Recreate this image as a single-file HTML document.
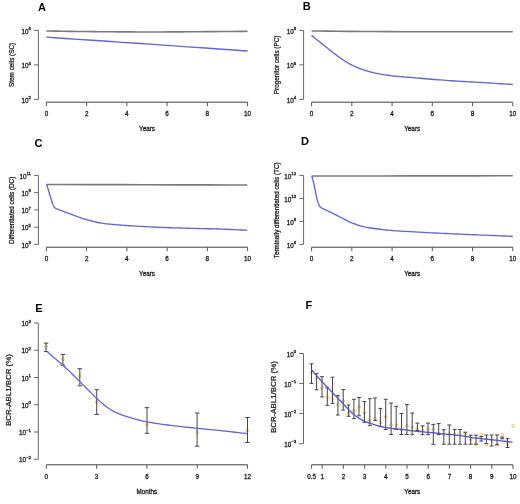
<!DOCTYPE html>
<html><head><meta charset="utf-8"><title>Figure</title>
<style>html,body{margin:0;padding:0;background:#fff;width:520px;height:504px;overflow:hidden}
svg{display:block;will-change:transform;font-family:"Liberation Sans",sans-serif}</style></head>
<body>
<svg width="520" height="504" viewBox="0 0 520 504" font-family='"Liberation Sans", sans-serif'>
<rect width="520" height="504" fill="#fff"/>
<g>
<line x1="38.4" y1="30.4" x2="38.4" y2="99.4" stroke="#676767" stroke-width="1.0"/>
<line x1="34.1" y1="30.4" x2="38.4" y2="30.4" stroke="#676767" stroke-width="1.0"/>
<line x1="34.1" y1="64.9" x2="38.4" y2="64.9" stroke="#676767" stroke-width="1.0"/>
<line x1="34.1" y1="99.4" x2="38.4" y2="99.4" stroke="#676767" stroke-width="1.0"/>
<line x1="46.4" y1="102.2" x2="247.6" y2="102.2" stroke="#404040" stroke-width="1.0"/>
<line x1="46.4" y1="102.2" x2="46.4" y2="106.2" stroke="#555" stroke-width="1.0"/>
<line x1="86.64" y1="102.2" x2="86.64" y2="106.2" stroke="#555" stroke-width="1.0"/>
<line x1="126.88" y1="102.2" x2="126.88" y2="106.2" stroke="#555" stroke-width="1.0"/>
<line x1="167.12" y1="102.2" x2="167.12" y2="106.2" stroke="#555" stroke-width="1.0"/>
<line x1="207.36" y1="102.2" x2="207.36" y2="106.2" stroke="#555" stroke-width="1.0"/>
<line x1="247.6" y1="102.2" x2="247.6" y2="106.2" stroke="#555" stroke-width="1.0"/>
<text x="46.4" y="116.3" font-size="6.3" text-anchor="middle" font-weight="normal" fill="#1a1a1a" stroke="#1a1a1a" stroke-width="0.28">0</text>
<text x="86.64" y="116.3" font-size="6.3" text-anchor="middle" font-weight="normal" fill="#1a1a1a" stroke="#1a1a1a" stroke-width="0.28">2</text>
<text x="126.88" y="116.3" font-size="6.3" text-anchor="middle" font-weight="normal" fill="#1a1a1a" stroke="#1a1a1a" stroke-width="0.28">4</text>
<text x="167.12" y="116.3" font-size="6.3" text-anchor="middle" font-weight="normal" fill="#1a1a1a" stroke="#1a1a1a" stroke-width="0.28">6</text>
<text x="207.36" y="116.3" font-size="6.3" text-anchor="middle" font-weight="normal" fill="#1a1a1a" stroke="#1a1a1a" stroke-width="0.28">8</text>
<text x="247.6" y="116.3" font-size="6.3" text-anchor="middle" font-weight="normal" fill="#1a1a1a" stroke="#1a1a1a" stroke-width="0.28">10</text>
<text x="147" y="131.4" font-size="6.3" text-anchor="middle" font-weight="normal" fill="#1a1a1a" stroke="#1a1a1a" stroke-width="0.28">Years</text>
<text x="31" y="33.6" font-size="6.3" text-anchor="end" fill="#1a1a1a" stroke="#1a1a1a" stroke-width="0.28">10<tspan font-size="4.4" dy="-3.5">6</tspan></text>
<text x="31" y="68.1" font-size="6.3" text-anchor="end" fill="#1a1a1a" stroke="#1a1a1a" stroke-width="0.28">10<tspan font-size="4.4" dy="-3.5">4</tspan></text>
<text x="31" y="102.6" font-size="6.3" text-anchor="end" fill="#1a1a1a" stroke="#1a1a1a" stroke-width="0.28">10<tspan font-size="4.4" dy="-3.5">2</tspan></text>
<text x="14.5" y="64.9" font-size="6.35" text-anchor="middle" font-weight="normal" fill="#1a1a1a" stroke="#1a1a1a" stroke-width="0.28" transform="rotate(-90 14.5 64.9)">Stem cells (SC)</text>
<text x="42" y="11.2" font-size="11.0" text-anchor="middle" font-weight="bold" fill="#000">A</text>
<polyline points="46.4,31 50.56,31.06 56.12,31.14 62.73,31.23 70.08,31.33 77.81,31.44 85.6,31.54 93.11,31.63 100,31.7 106.42,31.76 112.75,31.81 119.01,31.85 125.22,31.88 131.41,31.91 137.58,31.93 143.77,31.95 150,31.95 156.27,31.94 162.56,31.93 168.86,31.9 175.15,31.87 181.43,31.83 187.67,31.78 193.86,31.74 200,31.7 206.39,31.65 213.18,31.6 220.12,31.54 226.93,31.48 233.34,31.43 239.1,31.38 243.94,31.33 247.6,31.3" fill="none" stroke="#7a7a7a" stroke-width="1.6" stroke-linejoin="round" stroke-linecap="butt"/>
<polyline points="46.4,37.2 54.43,37.74 65.16,38.46 77.93,39.32 92.1,40.28 107.04,41.28 122.09,42.3 136.63,43.29 150,44.2 163.15,45.11 177.11,46.07 191.33,47.06 205.28,48.04 218.41,48.96 230.2,49.78 240.11,50.48 247.6,51" fill="none" stroke="#6464d6" stroke-width="1.35" stroke-linejoin="round" stroke-linecap="butt"/>
<line x1="303.6" y1="30.4" x2="303.6" y2="99.4" stroke="#676767" stroke-width="1.0"/>
<line x1="299.3" y1="30.4" x2="303.6" y2="30.4" stroke="#676767" stroke-width="1.0"/>
<line x1="299.3" y1="64.9" x2="303.6" y2="64.9" stroke="#676767" stroke-width="1.0"/>
<line x1="299.3" y1="99.4" x2="303.6" y2="99.4" stroke="#676767" stroke-width="1.0"/>
<line x1="311.6" y1="102.2" x2="512.8" y2="102.2" stroke="#404040" stroke-width="1.0"/>
<line x1="311.6" y1="102.2" x2="311.6" y2="106.2" stroke="#555" stroke-width="1.0"/>
<line x1="351.84" y1="102.2" x2="351.84" y2="106.2" stroke="#555" stroke-width="1.0"/>
<line x1="392.08" y1="102.2" x2="392.08" y2="106.2" stroke="#555" stroke-width="1.0"/>
<line x1="432.32" y1="102.2" x2="432.32" y2="106.2" stroke="#555" stroke-width="1.0"/>
<line x1="472.56" y1="102.2" x2="472.56" y2="106.2" stroke="#555" stroke-width="1.0"/>
<line x1="512.8" y1="102.2" x2="512.8" y2="106.2" stroke="#555" stroke-width="1.0"/>
<text x="311.6" y="116.3" font-size="6.3" text-anchor="middle" font-weight="normal" fill="#1a1a1a" stroke="#1a1a1a" stroke-width="0.28">0</text>
<text x="351.84" y="116.3" font-size="6.3" text-anchor="middle" font-weight="normal" fill="#1a1a1a" stroke="#1a1a1a" stroke-width="0.28">2</text>
<text x="392.08" y="116.3" font-size="6.3" text-anchor="middle" font-weight="normal" fill="#1a1a1a" stroke="#1a1a1a" stroke-width="0.28">4</text>
<text x="432.32" y="116.3" font-size="6.3" text-anchor="middle" font-weight="normal" fill="#1a1a1a" stroke="#1a1a1a" stroke-width="0.28">6</text>
<text x="472.56" y="116.3" font-size="6.3" text-anchor="middle" font-weight="normal" fill="#1a1a1a" stroke="#1a1a1a" stroke-width="0.28">8</text>
<text x="512.8" y="116.3" font-size="6.3" text-anchor="middle" font-weight="normal" fill="#1a1a1a" stroke="#1a1a1a" stroke-width="0.28">10</text>
<text x="412.2" y="131.4" font-size="6.3" text-anchor="middle" font-weight="normal" fill="#1a1a1a" stroke="#1a1a1a" stroke-width="0.28">Years</text>
<text x="296.2" y="33.6" font-size="6.3" text-anchor="end" fill="#1a1a1a" stroke="#1a1a1a" stroke-width="0.28">10<tspan font-size="4.4" dy="-3.5">8</tspan></text>
<text x="296.2" y="68.1" font-size="6.3" text-anchor="end" fill="#1a1a1a" stroke="#1a1a1a" stroke-width="0.28">10<tspan font-size="4.4" dy="-3.5">6</tspan></text>
<text x="296.2" y="102.6" font-size="6.3" text-anchor="end" fill="#1a1a1a" stroke="#1a1a1a" stroke-width="0.28">10<tspan font-size="4.4" dy="-3.5">4</tspan></text>
<text x="278.8" y="64.9" font-size="6.35" text-anchor="middle" font-weight="normal" fill="#1a1a1a" stroke="#1a1a1a" stroke-width="0.28" transform="rotate(-90 278.8 64.9)">Progenitor cells (PC)</text>
<text x="306.8" y="10.3" font-size="11.0" text-anchor="middle" font-weight="bold" fill="#000">B</text>
<polyline points="311.6,31 318.25,31.06 326.91,31.14 337.2,31.24 348.75,31.34 361.18,31.45 374.11,31.55 387.18,31.64 400,31.7 413.7,31.74 429.13,31.77 445.47,31.79 461.92,31.79 477.69,31.8 491.96,31.8 503.93,31.8 512.8,31.8" fill="none" stroke="#7a7a7a" stroke-width="1.6" stroke-linejoin="round" stroke-linecap="butt"/>
<polyline points="311.5,35.4 312.4,36.11 313.59,37.05 315,38.18 316.58,39.42 318.25,40.75 319.94,42.08 321.58,43.39 323.1,44.6 324.54,45.76 325.98,46.93 327.42,48.1 328.85,49.27 330.28,50.43 331.72,51.58 333.16,52.7 334.6,53.8 336.05,54.88 337.5,55.96 338.95,57.02 340.4,58.06 341.85,59.08 343.3,60.06 344.75,61.01 346.2,61.9 347.64,62.75 349.08,63.56 350.52,64.33 351.96,65.06 353.39,65.77 354.83,66.44 356.26,67.08 357.7,67.7 359.14,68.29 360.57,68.84 362.01,69.36 363.44,69.85 364.88,70.32 366.32,70.76 367.76,71.19 369.2,71.6 370.65,71.99 372.1,72.36 373.55,72.71 375,73.04 376.45,73.36 377.9,73.65 379.35,73.93 380.8,74.2 382.24,74.45 383.68,74.68 385.12,74.9 386.56,75.09 387.99,75.28 389.43,75.46 390.86,75.63 392.3,75.8 393.68,75.96 394.99,76.1 396.27,76.23 397.56,76.35 398.92,76.47 400.38,76.6 401.99,76.74 403.8,76.9 405.81,77.07 407.99,77.26 410.3,77.45 412.73,77.65 415.24,77.86 417.83,78.07 420.45,78.28 423.1,78.5 425.81,78.73 428.61,78.97 431.49,79.21 434.42,79.46 437.38,79.71 440.34,79.95 443.29,80.18 446.2,80.4 449.08,80.6 451.95,80.79 454.83,80.96 457.7,81.13 460.57,81.3 463.45,81.46 466.32,81.63 469.2,81.8 472.1,81.98 475.03,82.15 477.97,82.33 480.91,82.51 483.82,82.68 486.71,82.86 489.54,83.03 492.3,83.2 495.13,83.38 498.09,83.56 501.08,83.75 503.99,83.94 506.73,84.11 509.18,84.27 511.24,84.4 512.8,84.5" fill="none" stroke="#6464d6" stroke-width="1.35" stroke-linejoin="round" stroke-linecap="butt"/>
<line x1="38.4" y1="175.4" x2="38.4" y2="244.4" stroke="#676767" stroke-width="1.0"/>
<line x1="34.1" y1="175.4" x2="38.4" y2="175.4" stroke="#676767" stroke-width="1.0"/>
<line x1="34.1" y1="192.65" x2="38.4" y2="192.65" stroke="#676767" stroke-width="1.0"/>
<line x1="34.1" y1="209.9" x2="38.4" y2="209.9" stroke="#676767" stroke-width="1.0"/>
<line x1="34.1" y1="227.15" x2="38.4" y2="227.15" stroke="#676767" stroke-width="1.0"/>
<line x1="34.1" y1="244.4" x2="38.4" y2="244.4" stroke="#676767" stroke-width="1.0"/>
<line x1="46.4" y1="247.2" x2="247.6" y2="247.2" stroke="#404040" stroke-width="1.0"/>
<line x1="46.4" y1="247.2" x2="46.4" y2="251.2" stroke="#555" stroke-width="1.0"/>
<line x1="86.64" y1="247.2" x2="86.64" y2="251.2" stroke="#555" stroke-width="1.0"/>
<line x1="126.88" y1="247.2" x2="126.88" y2="251.2" stroke="#555" stroke-width="1.0"/>
<line x1="167.12" y1="247.2" x2="167.12" y2="251.2" stroke="#555" stroke-width="1.0"/>
<line x1="207.36" y1="247.2" x2="207.36" y2="251.2" stroke="#555" stroke-width="1.0"/>
<line x1="247.6" y1="247.2" x2="247.6" y2="251.2" stroke="#555" stroke-width="1.0"/>
<text x="46.4" y="261.3" font-size="6.3" text-anchor="middle" font-weight="normal" fill="#1a1a1a" stroke="#1a1a1a" stroke-width="0.28">0</text>
<text x="86.64" y="261.3" font-size="6.3" text-anchor="middle" font-weight="normal" fill="#1a1a1a" stroke="#1a1a1a" stroke-width="0.28">2</text>
<text x="126.88" y="261.3" font-size="6.3" text-anchor="middle" font-weight="normal" fill="#1a1a1a" stroke="#1a1a1a" stroke-width="0.28">4</text>
<text x="167.12" y="261.3" font-size="6.3" text-anchor="middle" font-weight="normal" fill="#1a1a1a" stroke="#1a1a1a" stroke-width="0.28">6</text>
<text x="207.36" y="261.3" font-size="6.3" text-anchor="middle" font-weight="normal" fill="#1a1a1a" stroke="#1a1a1a" stroke-width="0.28">8</text>
<text x="247.6" y="261.3" font-size="6.3" text-anchor="middle" font-weight="normal" fill="#1a1a1a" stroke="#1a1a1a" stroke-width="0.28">10</text>
<text x="147" y="276.4" font-size="6.3" text-anchor="middle" font-weight="normal" fill="#1a1a1a" stroke="#1a1a1a" stroke-width="0.28">Years</text>
<text x="31" y="178.6" font-size="6.3" text-anchor="end" fill="#1a1a1a" stroke="#1a1a1a" stroke-width="0.28">10<tspan font-size="4.4" dy="-3.5">11</tspan></text>
<text x="31" y="195.85" font-size="6.3" text-anchor="end" fill="#1a1a1a" stroke="#1a1a1a" stroke-width="0.28">10<tspan font-size="4.4" dy="-3.5">9</tspan></text>
<text x="31" y="213.1" font-size="6.3" text-anchor="end" fill="#1a1a1a" stroke="#1a1a1a" stroke-width="0.28">10<tspan font-size="4.4" dy="-3.5">7</tspan></text>
<text x="31" y="230.35" font-size="6.3" text-anchor="end" fill="#1a1a1a" stroke="#1a1a1a" stroke-width="0.28">10<tspan font-size="4.4" dy="-3.5">5</tspan></text>
<text x="31" y="247.6" font-size="6.3" text-anchor="end" fill="#1a1a1a" stroke="#1a1a1a" stroke-width="0.28">10<tspan font-size="4.4" dy="-3.5">3</tspan></text>
<text x="14.5" y="210.3" font-size="6.35" text-anchor="middle" font-weight="normal" fill="#1a1a1a" stroke="#1a1a1a" stroke-width="0.28" transform="rotate(-90 14.5 210.3)">Differentiated cells (DC)</text>
<text x="38.6" y="147.3" font-size="11.0" text-anchor="middle" font-weight="bold" fill="#000">C</text>
<polyline points="46.4,184.5 63.27,184.54 87.21,184.6 115.85,184.67 146.85,184.75 177.85,184.83 206.49,184.9 230.43,184.96 247.3,185" fill="none" stroke="#7a7a7a" stroke-width="1.6" stroke-linejoin="round" stroke-linecap="butt"/>
<polyline points="46.5,184.2 46.65,184.67 46.85,185.28 47.09,186 47.36,186.82 47.64,187.69 47.93,188.6 48.22,189.51 48.5,190.4 48.77,191.3 49.05,192.24 49.34,193.21 49.63,194.21 49.92,195.21 50.22,196.2 50.51,197.17 50.8,198.1 51.09,199.03 51.38,199.97 51.66,200.91 51.95,201.84 52.24,202.73 52.52,203.56 52.81,204.32 53.1,205 53.37,205.58 53.62,206.07 53.86,206.49 54.11,206.86 54.37,207.19 54.66,207.49 55,207.79 55.4,208.1 55.82,208.39 56.24,208.63 56.68,208.84 57.17,209.04 57.72,209.24 58.36,209.48 59.11,209.76 60,210.1 61.05,210.51 62.27,210.98 63.6,211.49 65.02,212.03 66.48,212.58 67.96,213.14 69.41,213.68 70.8,214.2 72.13,214.7 73.44,215.2 74.75,215.69 76.06,216.19 77.37,216.68 78.71,217.16 80.09,217.63 81.5,218.1 82.97,218.57 84.5,219.04 86.06,219.51 87.64,219.97 89.23,220.41 90.79,220.84 92.32,221.24 93.8,221.6 95.19,221.93 96.5,222.22 97.76,222.49 99.01,222.73 100.28,222.96 101.61,223.18 103.04,223.39 104.6,223.6 106.29,223.81 108.09,224 109.97,224.18 111.92,224.35 113.91,224.52 115.94,224.68 117.97,224.84 120,225 121.97,225.16 123.89,225.31 125.79,225.46 127.73,225.61 129.76,225.75 131.94,225.9 134.3,226.05 136.9,226.2 139.78,226.36 142.92,226.53 146.25,226.7 149.72,226.88 153.27,227.04 156.83,227.21 160.36,227.36 163.8,227.5 167.17,227.62 170.55,227.74 173.92,227.84 177.3,227.94 180.68,228.03 184.05,228.12 187.43,228.21 190.8,228.3 194.15,228.39 197.47,228.47 200.78,228.55 204.09,228.62 207.42,228.71 210.79,228.79 214.21,228.89 217.7,229 221.47,229.13 225.6,229.29 229.9,229.47 234.18,229.64 238.25,229.82 241.92,229.97 245,230.1 247.3,230.2" fill="none" stroke="#6464d6" stroke-width="1.35" stroke-linejoin="round" stroke-linecap="butt"/>
<line x1="303.6" y1="175.4" x2="303.6" y2="244.4" stroke="#676767" stroke-width="1.0"/>
<line x1="299.3" y1="175.4" x2="303.6" y2="175.4" stroke="#676767" stroke-width="1.0"/>
<line x1="299.3" y1="198.4" x2="303.6" y2="198.4" stroke="#676767" stroke-width="1.0"/>
<line x1="299.3" y1="221.4" x2="303.6" y2="221.4" stroke="#676767" stroke-width="1.0"/>
<line x1="299.3" y1="244.4" x2="303.6" y2="244.4" stroke="#676767" stroke-width="1.0"/>
<line x1="311.6" y1="247.2" x2="512.8" y2="247.2" stroke="#404040" stroke-width="1.0"/>
<line x1="311.6" y1="247.2" x2="311.6" y2="251.2" stroke="#555" stroke-width="1.0"/>
<line x1="351.84" y1="247.2" x2="351.84" y2="251.2" stroke="#555" stroke-width="1.0"/>
<line x1="392.08" y1="247.2" x2="392.08" y2="251.2" stroke="#555" stroke-width="1.0"/>
<line x1="432.32" y1="247.2" x2="432.32" y2="251.2" stroke="#555" stroke-width="1.0"/>
<line x1="472.56" y1="247.2" x2="472.56" y2="251.2" stroke="#555" stroke-width="1.0"/>
<line x1="512.8" y1="247.2" x2="512.8" y2="251.2" stroke="#555" stroke-width="1.0"/>
<text x="311.6" y="261.3" font-size="6.3" text-anchor="middle" font-weight="normal" fill="#1a1a1a" stroke="#1a1a1a" stroke-width="0.28">0</text>
<text x="351.84" y="261.3" font-size="6.3" text-anchor="middle" font-weight="normal" fill="#1a1a1a" stroke="#1a1a1a" stroke-width="0.28">2</text>
<text x="392.08" y="261.3" font-size="6.3" text-anchor="middle" font-weight="normal" fill="#1a1a1a" stroke="#1a1a1a" stroke-width="0.28">4</text>
<text x="432.32" y="261.3" font-size="6.3" text-anchor="middle" font-weight="normal" fill="#1a1a1a" stroke="#1a1a1a" stroke-width="0.28">6</text>
<text x="472.56" y="261.3" font-size="6.3" text-anchor="middle" font-weight="normal" fill="#1a1a1a" stroke="#1a1a1a" stroke-width="0.28">8</text>
<text x="512.8" y="261.3" font-size="6.3" text-anchor="middle" font-weight="normal" fill="#1a1a1a" stroke="#1a1a1a" stroke-width="0.28">10</text>
<text x="412.2" y="276.4" font-size="6.3" text-anchor="middle" font-weight="normal" fill="#1a1a1a" stroke="#1a1a1a" stroke-width="0.28">Years</text>
<text x="296.2" y="178.6" font-size="6.3" text-anchor="end" fill="#1a1a1a" stroke="#1a1a1a" stroke-width="0.28">10<tspan font-size="4.4" dy="-3.5">12</tspan></text>
<text x="296.2" y="201.6" font-size="6.3" text-anchor="end" fill="#1a1a1a" stroke="#1a1a1a" stroke-width="0.28">10<tspan font-size="4.4" dy="-3.5">10</tspan></text>
<text x="296.2" y="224.6" font-size="6.3" text-anchor="end" fill="#1a1a1a" stroke="#1a1a1a" stroke-width="0.28">10<tspan font-size="4.4" dy="-3.5">8</tspan></text>
<text x="296.2" y="247.6" font-size="6.3" text-anchor="end" fill="#1a1a1a" stroke="#1a1a1a" stroke-width="0.28">10<tspan font-size="4.4" dy="-3.5">6</tspan></text>
<text x="278.8" y="210.3" font-size="6.35" text-anchor="middle" font-weight="normal" fill="#1a1a1a" stroke="#1a1a1a" stroke-width="0.28" transform="rotate(-90 278.8 210.3)">Terminally differentiated cells (TC)</text>
<text x="304.9" y="145.4" font-size="11.0" text-anchor="middle" font-weight="bold" fill="#000">D</text>
<polyline points="311.6,176 328.5,175.98 352.47,175.96 381.16,175.93 412.2,175.9 443.24,175.87 471.93,175.84 495.9,175.82 512.8,175.8" fill="none" stroke="#7a7a7a" stroke-width="1.6" stroke-linejoin="round" stroke-linecap="butt"/>
<polyline points="311.9,176 312.09,176.75 312.33,177.73 312.62,178.9 312.95,180.21 313.29,181.61 313.64,183.05 313.98,184.5 314.3,185.9 314.6,187.32 314.9,188.85 315.2,190.43 315.51,192.03 315.81,193.6 316.11,195.12 316.4,196.53 316.7,197.8 316.99,198.95 317.28,200.01 317.57,201 317.85,201.91 318.13,202.76 318.42,203.53 318.71,204.25 319,204.9 319.26,205.46 319.48,205.91 319.68,206.27 319.89,206.57 320.14,206.85 320.46,207.13 320.87,207.44 321.4,207.8 322.04,208.2 322.77,208.59 323.58,208.98 324.46,209.39 325.4,209.81 326.41,210.27 327.48,210.76 328.6,211.3 329.8,211.89 331.1,212.53 332.48,213.21 333.91,213.92 335.37,214.64 336.83,215.37 338.29,216.09 339.7,216.8 341.08,217.5 342.44,218.22 343.79,218.95 345.15,219.68 346.52,220.39 347.91,221.09 349.34,221.76 350.8,222.4 352.3,223.01 353.82,223.61 355.37,224.2 356.94,224.76 358.54,225.29 360.16,225.8 361.82,226.27 363.5,226.7 365.22,227.09 366.98,227.43 368.78,227.74 370.6,228.02 372.44,228.28 374.29,228.52 376.15,228.76 378,229 379.73,229.23 381.28,229.44 382.76,229.63 384.29,229.82 385.98,230 387.94,230.19 390.28,230.39 393.1,230.6 396.53,230.83 400.51,231.09 404.9,231.35 409.54,231.61 414.29,231.88 419,232.13 423.52,232.38 427.7,232.6 431.58,232.81 435.31,233 438.92,233.18 442.46,233.35 445.95,233.52 449.43,233.68 452.93,233.84 456.5,234 460.12,234.16 463.75,234.32 467.4,234.47 471.04,234.62 474.67,234.77 478.28,234.91 481.86,235.06 485.4,235.2 489.08,235.35 493,235.51 496.99,235.67 500.91,235.82 504.6,235.97 507.91,236.1 510.7,236.22 512.8,236.3" fill="none" stroke="#6464d6" stroke-width="1.35" stroke-linejoin="round" stroke-linecap="butt"/>
<line x1="38.3" y1="323" x2="38.3" y2="459.25" stroke="#676767" stroke-width="1.0"/>
<line x1="34" y1="323" x2="38.3" y2="323" stroke="#676767" stroke-width="1.0"/>
<line x1="34" y1="350.25" x2="38.3" y2="350.25" stroke="#676767" stroke-width="1.0"/>
<line x1="34" y1="377.5" x2="38.3" y2="377.5" stroke="#676767" stroke-width="1.0"/>
<line x1="34" y1="404.75" x2="38.3" y2="404.75" stroke="#676767" stroke-width="1.0"/>
<line x1="34" y1="432" x2="38.3" y2="432" stroke="#676767" stroke-width="1.0"/>
<line x1="34" y1="459.25" x2="38.3" y2="459.25" stroke="#676767" stroke-width="1.0"/>
<line x1="46.3" y1="464.8" x2="247.54" y2="464.8" stroke="#404040" stroke-width="1.0"/>
<line x1="46.3" y1="464.8" x2="46.3" y2="468.8" stroke="#555" stroke-width="1.0"/>
<line x1="96.61" y1="464.8" x2="96.61" y2="468.8" stroke="#555" stroke-width="1.0"/>
<line x1="146.92" y1="464.8" x2="146.92" y2="468.8" stroke="#555" stroke-width="1.0"/>
<line x1="197.23" y1="464.8" x2="197.23" y2="468.8" stroke="#555" stroke-width="1.0"/>
<line x1="247.54" y1="464.8" x2="247.54" y2="468.8" stroke="#555" stroke-width="1.0"/>
<text x="46.3" y="478.6" font-size="6.3" text-anchor="middle" font-weight="normal" fill="#1a1a1a" stroke="#1a1a1a" stroke-width="0.28">0</text>
<text x="96.61" y="478.6" font-size="6.3" text-anchor="middle" font-weight="normal" fill="#1a1a1a" stroke="#1a1a1a" stroke-width="0.28">3</text>
<text x="146.92" y="478.6" font-size="6.3" text-anchor="middle" font-weight="normal" fill="#1a1a1a" stroke="#1a1a1a" stroke-width="0.28">6</text>
<text x="197.23" y="478.6" font-size="6.3" text-anchor="middle" font-weight="normal" fill="#1a1a1a" stroke="#1a1a1a" stroke-width="0.28">9</text>
<text x="247.54" y="478.6" font-size="6.3" text-anchor="middle" font-weight="normal" fill="#1a1a1a" stroke="#1a1a1a" stroke-width="0.28">12</text>
<text x="146.9" y="494.3" font-size="6.3" text-anchor="middle" font-weight="normal" fill="#1a1a1a" stroke="#1a1a1a" stroke-width="0.28">Months</text>
<text x="31" y="326.2" font-size="6.3" text-anchor="end" fill="#1a1a1a" stroke="#1a1a1a" stroke-width="0.28">10<tspan font-size="4.4" dy="-3.5">3</tspan></text>
<text x="31" y="353.45" font-size="6.3" text-anchor="end" fill="#1a1a1a" stroke="#1a1a1a" stroke-width="0.28">10<tspan font-size="4.4" dy="-3.5">2</tspan></text>
<text x="31" y="380.7" font-size="6.3" text-anchor="end" fill="#1a1a1a" stroke="#1a1a1a" stroke-width="0.28">10<tspan font-size="4.4" dy="-3.5">1</tspan></text>
<text x="31" y="407.95" font-size="6.3" text-anchor="end" fill="#1a1a1a" stroke="#1a1a1a" stroke-width="0.28">10<tspan font-size="4.4" dy="-3.5">0</tspan></text>
<text x="31" y="435.2" font-size="6.3" text-anchor="end" fill="#1a1a1a" stroke="#1a1a1a" stroke-width="0.28">10<tspan font-size="4.4" dy="-3.5">&#8722;1</tspan></text>
<text x="31" y="462.45" font-size="6.3" text-anchor="end" fill="#1a1a1a" stroke="#1a1a1a" stroke-width="0.28">10<tspan font-size="4.4" dy="-3.5">&#8722;2</tspan></text>
<text x="11.3" y="390.1" font-size="7.9" text-anchor="middle" font-weight="normal" fill="#1a1a1a" stroke="#1a1a1a" stroke-width="0.28" transform="rotate(-90 11.3 390.1)">BCR-ABL1/BCR (%)</text>
<text x="39" y="311.6" font-size="11.0" text-anchor="middle" font-weight="bold" fill="#000">E</text>
<circle cx="46.1" cy="346.6" r="1.4" fill="none" stroke="#e6bc62" stroke-width="0.85"/>
<circle cx="62.9" cy="359.1" r="1.4" fill="none" stroke="#e6bc62" stroke-width="0.85"/>
<circle cx="79.8" cy="375.7" r="1.4" fill="none" stroke="#e6bc62" stroke-width="0.85"/>
<circle cx="96.7" cy="402" r="1.4" fill="none" stroke="#e6bc62" stroke-width="0.85"/>
<circle cx="147" cy="424.9" r="1.4" fill="none" stroke="#e6bc62" stroke-width="0.85"/>
<circle cx="197.1" cy="432.5" r="1.4" fill="none" stroke="#e6bc62" stroke-width="0.85"/>
<circle cx="247.5" cy="430.5" r="1.4" fill="none" stroke="#e6bc62" stroke-width="0.85"/>
<line x1="46.1" y1="343.1" x2="46.1" y2="351.5" stroke="#444444" stroke-width="1.0"/>
<line x1="43.85" y1="343.1" x2="48.35" y2="343.1" stroke="#444444" stroke-width="1.0"/>
<line x1="43.85" y1="351.5" x2="48.35" y2="351.5" stroke="#444444" stroke-width="1.0"/>
<line x1="62.9" y1="354.4" x2="62.9" y2="365.2" stroke="#444444" stroke-width="1.0"/>
<line x1="60.65" y1="354.4" x2="65.15" y2="354.4" stroke="#444444" stroke-width="1.0"/>
<line x1="60.65" y1="365.2" x2="65.15" y2="365.2" stroke="#444444" stroke-width="1.0"/>
<line x1="79.8" y1="368.7" x2="79.8" y2="385.8" stroke="#444444" stroke-width="1.0"/>
<line x1="77.55" y1="368.7" x2="82.05" y2="368.7" stroke="#444444" stroke-width="1.0"/>
<line x1="77.55" y1="385.8" x2="82.05" y2="385.8" stroke="#444444" stroke-width="1.0"/>
<line x1="96.7" y1="389.7" x2="96.7" y2="414.4" stroke="#444444" stroke-width="1.0"/>
<line x1="94.45" y1="389.7" x2="98.95" y2="389.7" stroke="#444444" stroke-width="1.0"/>
<line x1="94.45" y1="414.4" x2="98.95" y2="414.4" stroke="#444444" stroke-width="1.0"/>
<line x1="147" y1="407.7" x2="147" y2="433.3" stroke="#444444" stroke-width="1.0"/>
<line x1="144.75" y1="407.7" x2="149.25" y2="407.7" stroke="#444444" stroke-width="1.0"/>
<line x1="144.75" y1="433.3" x2="149.25" y2="433.3" stroke="#444444" stroke-width="1.0"/>
<line x1="197.1" y1="413" x2="197.1" y2="446.2" stroke="#444444" stroke-width="1.0"/>
<line x1="194.85" y1="413" x2="199.35" y2="413" stroke="#444444" stroke-width="1.0"/>
<line x1="194.85" y1="446.2" x2="199.35" y2="446.2" stroke="#444444" stroke-width="1.0"/>
<line x1="247.5" y1="417.5" x2="247.5" y2="442.5" stroke="#444444" stroke-width="1.0"/>
<line x1="245.25" y1="417.5" x2="249.75" y2="417.5" stroke="#444444" stroke-width="1.0"/>
<line x1="245.25" y1="442.5" x2="249.75" y2="442.5" stroke="#444444" stroke-width="1.0"/>
<polyline points="46.6,351.2 47.16,351.69 47.91,352.33 48.79,353.1 49.78,353.95 50.83,354.86 51.91,355.79 52.98,356.72 54,357.6 54.99,358.45 56,359.3 57.03,360.17 58.07,361.04 59.13,361.94 60.2,362.86 61.29,363.81 62.4,364.8 63.55,365.84 64.74,366.93 65.96,368.07 67.19,369.22 68.42,370.38 69.63,371.52 70.79,372.63 71.9,373.7 72.94,374.71 73.92,375.68 74.86,376.62 75.78,377.54 76.7,378.47 77.63,379.41 78.59,380.38 79.6,381.4 80.67,382.47 81.79,383.59 82.94,384.74 84.1,385.9 85.26,387.06 86.41,388.21 87.53,389.33 88.6,390.4 89.62,391.42 90.59,392.42 91.53,393.38 92.46,394.33 93.38,395.27 94.32,396.21 95.29,397.15 96.3,398.1 97.37,399.08 98.48,400.09 99.62,401.11 100.78,402.13 101.93,403.12 103.07,404.08 104.16,404.98 105.2,405.8 106.18,406.55 107.11,407.23 108.01,407.87 108.88,408.46 109.75,409.02 110.61,409.55 111.49,410.08 112.4,410.6 113.31,411.11 114.22,411.59 115.12,412.05 116.03,412.49 116.96,412.92 117.92,413.34 118.93,413.77 120,414.2 121.14,414.64 122.33,415.08 123.57,415.52 124.85,415.96 126.14,416.39 127.44,416.8 128.73,417.21 130,417.6 131.25,417.98 132.5,418.34 133.75,418.69 135,419.03 136.25,419.36 137.5,419.68 138.75,420 140,420.3 141.2,420.59 142.32,420.86 143.42,421.11 144.53,421.36 145.7,421.6 146.97,421.85 148.39,422.12 150,422.4 151.75,422.7 153.57,423 155.49,423.31 157.53,423.62 159.73,423.95 162.11,424.29 164.69,424.64 167.5,425 170.64,425.38 174.12,425.79 177.86,426.22 181.75,426.66 185.7,427.09 189.62,427.51 193.42,427.92 197,428.3 200.38,428.65 203.67,428.97 206.88,429.28 210.03,429.57 213.15,429.87 216.25,430.17 219.36,430.47 222.5,430.8 225.82,431.16 229.37,431.56 233.01,431.99 236.59,432.41 239.98,432.81 243.02,433.17 245.57,433.47 247.5,433.7" fill="none" stroke="#6464d6" stroke-width="1.3" stroke-linejoin="round" stroke-linecap="butt"/>
<line x1="303.5" y1="353.5" x2="303.5" y2="443.71" stroke="#676767" stroke-width="1.0"/>
<line x1="299.2" y1="353.5" x2="303.5" y2="353.5" stroke="#676767" stroke-width="1.0"/>
<line x1="299.2" y1="383.57" x2="303.5" y2="383.57" stroke="#676767" stroke-width="1.0"/>
<line x1="299.2" y1="413.64" x2="303.5" y2="413.64" stroke="#676767" stroke-width="1.0"/>
<line x1="299.2" y1="443.71" x2="303.5" y2="443.71" stroke="#676767" stroke-width="1.0"/>
<line x1="311.6" y1="464.8" x2="513" y2="464.8" stroke="#404040" stroke-width="1.0"/>
<line x1="311.6" y1="464.8" x2="311.6" y2="468.8" stroke="#555" stroke-width="1.0"/>
<line x1="322.2" y1="464.8" x2="322.2" y2="468.8" stroke="#555" stroke-width="1.0"/>
<line x1="343.4" y1="464.8" x2="343.4" y2="468.8" stroke="#555" stroke-width="1.0"/>
<line x1="364.6" y1="464.8" x2="364.6" y2="468.8" stroke="#555" stroke-width="1.0"/>
<line x1="385.8" y1="464.8" x2="385.8" y2="468.8" stroke="#555" stroke-width="1.0"/>
<line x1="407" y1="464.8" x2="407" y2="468.8" stroke="#555" stroke-width="1.0"/>
<line x1="428.2" y1="464.8" x2="428.2" y2="468.8" stroke="#555" stroke-width="1.0"/>
<line x1="449.4" y1="464.8" x2="449.4" y2="468.8" stroke="#555" stroke-width="1.0"/>
<line x1="470.6" y1="464.8" x2="470.6" y2="468.8" stroke="#555" stroke-width="1.0"/>
<line x1="491.8" y1="464.8" x2="491.8" y2="468.8" stroke="#555" stroke-width="1.0"/>
<line x1="513" y1="464.8" x2="513" y2="468.8" stroke="#555" stroke-width="1.0"/>
<text x="311.6" y="478.6" font-size="6.3" text-anchor="middle" font-weight="normal" fill="#1a1a1a" stroke="#1a1a1a" stroke-width="0.28">0.5</text>
<text x="322.2" y="478.6" font-size="6.3" text-anchor="middle" font-weight="normal" fill="#1a1a1a" stroke="#1a1a1a" stroke-width="0.28">1</text>
<text x="343.4" y="478.6" font-size="6.3" text-anchor="middle" font-weight="normal" fill="#1a1a1a" stroke="#1a1a1a" stroke-width="0.28">2</text>
<text x="364.6" y="478.6" font-size="6.3" text-anchor="middle" font-weight="normal" fill="#1a1a1a" stroke="#1a1a1a" stroke-width="0.28">3</text>
<text x="385.8" y="478.6" font-size="6.3" text-anchor="middle" font-weight="normal" fill="#1a1a1a" stroke="#1a1a1a" stroke-width="0.28">4</text>
<text x="407" y="478.6" font-size="6.3" text-anchor="middle" font-weight="normal" fill="#1a1a1a" stroke="#1a1a1a" stroke-width="0.28">5</text>
<text x="428.2" y="478.6" font-size="6.3" text-anchor="middle" font-weight="normal" fill="#1a1a1a" stroke="#1a1a1a" stroke-width="0.28">6</text>
<text x="449.4" y="478.6" font-size="6.3" text-anchor="middle" font-weight="normal" fill="#1a1a1a" stroke="#1a1a1a" stroke-width="0.28">7</text>
<text x="470.6" y="478.6" font-size="6.3" text-anchor="middle" font-weight="normal" fill="#1a1a1a" stroke="#1a1a1a" stroke-width="0.28">8</text>
<text x="491.8" y="478.6" font-size="6.3" text-anchor="middle" font-weight="normal" fill="#1a1a1a" stroke="#1a1a1a" stroke-width="0.28">9</text>
<text x="513" y="478.6" font-size="6.3" text-anchor="middle" font-weight="normal" fill="#1a1a1a" stroke="#1a1a1a" stroke-width="0.28">10</text>
<text x="412.3" y="494.3" font-size="6.3" text-anchor="middle" font-weight="normal" fill="#1a1a1a" stroke="#1a1a1a" stroke-width="0.28">Years</text>
<text x="296.2" y="356.7" font-size="6.3" text-anchor="end" fill="#1a1a1a" stroke="#1a1a1a" stroke-width="0.28">10<tspan font-size="4.4" dy="-3.5">0</tspan></text>
<text x="296.2" y="386.77" font-size="6.3" text-anchor="end" fill="#1a1a1a" stroke="#1a1a1a" stroke-width="0.28">10<tspan font-size="4.4" dy="-3.5">&#8722;1</tspan></text>
<text x="296.2" y="416.84" font-size="6.3" text-anchor="end" fill="#1a1a1a" stroke="#1a1a1a" stroke-width="0.28">10<tspan font-size="4.4" dy="-3.5">&#8722;2</tspan></text>
<text x="296.2" y="446.91" font-size="6.3" text-anchor="end" fill="#1a1a1a" stroke="#1a1a1a" stroke-width="0.28">10<tspan font-size="4.4" dy="-3.5">&#8722;3</tspan></text>
<text x="276.4" y="397.1" font-size="7.9" text-anchor="middle" font-weight="normal" fill="#1a1a1a" stroke="#1a1a1a" stroke-width="0.28" transform="rotate(-90 276.4 397.1)">BCR-ABL1/BCR (%)</text>
<text x="308.9" y="308.6" font-size="11.0" text-anchor="middle" font-weight="bold" fill="#000">F</text>
<circle cx="311.5" cy="372.4" r="1.35" fill="none" stroke="#e6bc62" stroke-width="0.85"/>
<circle cx="316.6" cy="377.6" r="1.35" fill="none" stroke="#e6bc62" stroke-width="0.85"/>
<circle cx="322" cy="387.9" r="1.35" fill="none" stroke="#e6bc62" stroke-width="0.85"/>
<circle cx="327.3" cy="397.6" r="1.35" fill="none" stroke="#e6bc62" stroke-width="0.85"/>
<circle cx="332.5" cy="399.5" r="1.35" fill="none" stroke="#e6bc62" stroke-width="0.85"/>
<circle cx="337.9" cy="404.7" r="1.35" fill="none" stroke="#e6bc62" stroke-width="0.85"/>
<circle cx="343.2" cy="401.1" r="1.35" fill="none" stroke="#e6bc62" stroke-width="0.85"/>
<circle cx="348.6" cy="413.1" r="1.35" fill="none" stroke="#e6bc62" stroke-width="0.85"/>
<circle cx="353.9" cy="411" r="1.35" fill="none" stroke="#e6bc62" stroke-width="0.85"/>
<circle cx="359" cy="407" r="1.35" fill="none" stroke="#e6bc62" stroke-width="0.85"/>
<circle cx="364.4" cy="413" r="1.35" fill="none" stroke="#e6bc62" stroke-width="0.85"/>
<circle cx="369.8" cy="421" r="1.35" fill="none" stroke="#e6bc62" stroke-width="0.85"/>
<circle cx="375" cy="418.5" r="1.35" fill="none" stroke="#e6bc62" stroke-width="0.85"/>
<circle cx="380.4" cy="422.5" r="1.35" fill="none" stroke="#e6bc62" stroke-width="0.85"/>
<circle cx="385.7" cy="416.8" r="1.35" fill="none" stroke="#e6bc62" stroke-width="0.85"/>
<circle cx="391.1" cy="425" r="1.35" fill="none" stroke="#e6bc62" stroke-width="0.85"/>
<circle cx="396.2" cy="425.3" r="1.35" fill="none" stroke="#e6bc62" stroke-width="0.85"/>
<circle cx="401.5" cy="430" r="1.35" fill="none" stroke="#e6bc62" stroke-width="0.85"/>
<circle cx="406.9" cy="425.7" r="1.35" fill="none" stroke="#e6bc62" stroke-width="0.85"/>
<circle cx="412.2" cy="427.4" r="1.35" fill="none" stroke="#e6bc62" stroke-width="0.85"/>
<circle cx="417.4" cy="428.6" r="1.35" fill="none" stroke="#e6bc62" stroke-width="0.85"/>
<circle cx="422.6" cy="430.8" r="1.35" fill="none" stroke="#e6bc62" stroke-width="0.85"/>
<circle cx="428" cy="429.2" r="1.35" fill="none" stroke="#e6bc62" stroke-width="0.85"/>
<circle cx="433.3" cy="429.2" r="1.35" fill="none" stroke="#e6bc62" stroke-width="0.85"/>
<circle cx="438.7" cy="433.8" r="1.35" fill="none" stroke="#e6bc62" stroke-width="0.85"/>
<circle cx="443.8" cy="434.4" r="1.35" fill="none" stroke="#e6bc62" stroke-width="0.85"/>
<circle cx="449.3" cy="434" r="1.35" fill="none" stroke="#e6bc62" stroke-width="0.85"/>
<circle cx="454.6" cy="434.4" r="1.35" fill="none" stroke="#e6bc62" stroke-width="0.85"/>
<circle cx="460" cy="434.2" r="1.35" fill="none" stroke="#e6bc62" stroke-width="0.85"/>
<circle cx="465.3" cy="433.6" r="1.35" fill="none" stroke="#e6bc62" stroke-width="0.85"/>
<circle cx="470.7" cy="440" r="1.35" fill="none" stroke="#e6bc62" stroke-width="0.85"/>
<circle cx="476" cy="444.4" r="1.35" fill="none" stroke="#e6bc62" stroke-width="0.85"/>
<circle cx="481.2" cy="434.4" r="1.35" fill="none" stroke="#e6bc62" stroke-width="0.85"/>
<circle cx="486.4" cy="444.7" r="1.35" fill="none" stroke="#e6bc62" stroke-width="0.85"/>
<circle cx="491.7" cy="440" r="1.35" fill="none" stroke="#e6bc62" stroke-width="0.85"/>
<circle cx="497" cy="444.7" r="1.35" fill="none" stroke="#e6bc62" stroke-width="0.85"/>
<circle cx="502.2" cy="434.6" r="1.35" fill="none" stroke="#e6bc62" stroke-width="0.85"/>
<circle cx="507.5" cy="444.6" r="1.35" fill="none" stroke="#e6bc62" stroke-width="0.85"/>
<circle cx="513.1" cy="425.8" r="1.35" fill="none" stroke="#e6bc62" stroke-width="0.85"/>
<line x1="311.5" y1="363.8" x2="311.5" y2="383.4" stroke="#444444" stroke-width="1.0"/>
<line x1="309.55" y1="363.8" x2="313.45" y2="363.8" stroke="#444444" stroke-width="1.0"/>
<line x1="309.55" y1="383.4" x2="313.45" y2="383.4" stroke="#444444" stroke-width="1.0"/>
<line x1="316.6" y1="373.7" x2="316.6" y2="389.8" stroke="#444444" stroke-width="1.0"/>
<line x1="314.65" y1="373.7" x2="318.55" y2="373.7" stroke="#444444" stroke-width="1.0"/>
<line x1="314.65" y1="389.8" x2="318.55" y2="389.8" stroke="#444444" stroke-width="1.0"/>
<line x1="322" y1="376.7" x2="322" y2="396.9" stroke="#444444" stroke-width="1.0"/>
<line x1="320.05" y1="376.7" x2="323.95" y2="376.7" stroke="#444444" stroke-width="1.0"/>
<line x1="320.05" y1="396.9" x2="323.95" y2="396.9" stroke="#444444" stroke-width="1.0"/>
<line x1="327.3" y1="387.9" x2="327.3" y2="405.3" stroke="#444444" stroke-width="1.0"/>
<line x1="325.35" y1="387.9" x2="329.25" y2="387.9" stroke="#444444" stroke-width="1.0"/>
<line x1="325.35" y1="405.3" x2="329.25" y2="405.3" stroke="#444444" stroke-width="1.0"/>
<line x1="332.5" y1="377.2" x2="332.5" y2="403.4" stroke="#444444" stroke-width="1.0"/>
<line x1="330.55" y1="377.2" x2="334.45" y2="377.2" stroke="#444444" stroke-width="1.0"/>
<line x1="330.55" y1="403.4" x2="334.45" y2="403.4" stroke="#444444" stroke-width="1.0"/>
<line x1="337.9" y1="395.6" x2="337.9" y2="415" stroke="#444444" stroke-width="1.0"/>
<line x1="335.95" y1="395.6" x2="339.85" y2="395.6" stroke="#444444" stroke-width="1.0"/>
<line x1="335.95" y1="415" x2="339.85" y2="415" stroke="#444444" stroke-width="1.0"/>
<line x1="343.2" y1="389.6" x2="343.2" y2="410.1" stroke="#444444" stroke-width="1.0"/>
<line x1="341.25" y1="389.6" x2="345.15" y2="389.6" stroke="#444444" stroke-width="1.0"/>
<line x1="341.25" y1="410.1" x2="345.15" y2="410.1" stroke="#444444" stroke-width="1.0"/>
<line x1="348.6" y1="405" x2="348.6" y2="416.3" stroke="#444444" stroke-width="1.0"/>
<line x1="346.65" y1="405" x2="350.55" y2="405" stroke="#444444" stroke-width="1.0"/>
<line x1="346.65" y1="416.3" x2="350.55" y2="416.3" stroke="#444444" stroke-width="1.0"/>
<line x1="353.9" y1="399.3" x2="353.9" y2="418.6" stroke="#444444" stroke-width="1.0"/>
<line x1="351.95" y1="399.3" x2="355.85" y2="399.3" stroke="#444444" stroke-width="1.0"/>
<line x1="351.95" y1="418.6" x2="355.85" y2="418.6" stroke="#444444" stroke-width="1.0"/>
<line x1="359" y1="397.5" x2="359" y2="415.8" stroke="#444444" stroke-width="1.0"/>
<line x1="357.05" y1="397.5" x2="360.95" y2="397.5" stroke="#444444" stroke-width="1.0"/>
<line x1="357.05" y1="415.8" x2="360.95" y2="415.8" stroke="#444444" stroke-width="1.0"/>
<line x1="364.4" y1="401.6" x2="364.4" y2="422.3" stroke="#444444" stroke-width="1.0"/>
<line x1="362.45" y1="401.6" x2="366.35" y2="401.6" stroke="#444444" stroke-width="1.0"/>
<line x1="362.45" y1="422.3" x2="366.35" y2="422.3" stroke="#444444" stroke-width="1.0"/>
<line x1="369.8" y1="398.7" x2="369.8" y2="425.7" stroke="#444444" stroke-width="1.0"/>
<line x1="367.85" y1="398.7" x2="371.75" y2="398.7" stroke="#444444" stroke-width="1.0"/>
<line x1="367.85" y1="425.7" x2="371.75" y2="425.7" stroke="#444444" stroke-width="1.0"/>
<line x1="375" y1="398" x2="375" y2="420.6" stroke="#444444" stroke-width="1.0"/>
<line x1="373.05" y1="398" x2="376.95" y2="398" stroke="#444444" stroke-width="1.0"/>
<line x1="373.05" y1="420.6" x2="376.95" y2="420.6" stroke="#444444" stroke-width="1.0"/>
<line x1="380.4" y1="408.4" x2="380.4" y2="426.7" stroke="#444444" stroke-width="1.0"/>
<line x1="378.45" y1="408.4" x2="382.35" y2="408.4" stroke="#444444" stroke-width="1.0"/>
<line x1="378.45" y1="426.7" x2="382.35" y2="426.7" stroke="#444444" stroke-width="1.0"/>
<line x1="385.7" y1="399.3" x2="385.7" y2="429.4" stroke="#444444" stroke-width="1.0"/>
<line x1="383.75" y1="399.3" x2="387.65" y2="399.3" stroke="#444444" stroke-width="1.0"/>
<line x1="383.75" y1="429.4" x2="387.65" y2="429.4" stroke="#444444" stroke-width="1.0"/>
<line x1="391.1" y1="403.1" x2="391.1" y2="434.5" stroke="#444444" stroke-width="1.0"/>
<line x1="389.15" y1="403.1" x2="393.05" y2="403.1" stroke="#444444" stroke-width="1.0"/>
<line x1="389.15" y1="434.5" x2="393.05" y2="434.5" stroke="#444444" stroke-width="1.0"/>
<line x1="396.2" y1="406.3" x2="396.2" y2="429.4" stroke="#444444" stroke-width="1.0"/>
<line x1="394.25" y1="406.3" x2="398.15" y2="406.3" stroke="#444444" stroke-width="1.0"/>
<line x1="394.25" y1="429.4" x2="398.15" y2="429.4" stroke="#444444" stroke-width="1.0"/>
<line x1="401.5" y1="413.5" x2="401.5" y2="434.5" stroke="#444444" stroke-width="1.0"/>
<line x1="399.55" y1="413.5" x2="403.45" y2="413.5" stroke="#444444" stroke-width="1.0"/>
<line x1="399.55" y1="434.5" x2="403.45" y2="434.5" stroke="#444444" stroke-width="1.0"/>
<line x1="406.9" y1="404.5" x2="406.9" y2="434.5" stroke="#444444" stroke-width="1.0"/>
<line x1="404.95" y1="404.5" x2="408.85" y2="404.5" stroke="#444444" stroke-width="1.0"/>
<line x1="404.95" y1="434.5" x2="408.85" y2="434.5" stroke="#444444" stroke-width="1.0"/>
<line x1="412.2" y1="413" x2="412.2" y2="434.7" stroke="#444444" stroke-width="1.0"/>
<line x1="410.25" y1="413" x2="414.15" y2="413" stroke="#444444" stroke-width="1.0"/>
<line x1="410.25" y1="434.7" x2="414.15" y2="434.7" stroke="#444444" stroke-width="1.0"/>
<line x1="417.4" y1="423.1" x2="417.4" y2="430.5" stroke="#444444" stroke-width="1.0"/>
<line x1="415.45" y1="423.1" x2="419.35" y2="423.1" stroke="#444444" stroke-width="1.0"/>
<line x1="415.45" y1="430.5" x2="419.35" y2="430.5" stroke="#444444" stroke-width="1.0"/>
<line x1="422.6" y1="425.8" x2="422.6" y2="434.7" stroke="#444444" stroke-width="1.0"/>
<line x1="420.65" y1="425.8" x2="424.55" y2="425.8" stroke="#444444" stroke-width="1.0"/>
<line x1="420.65" y1="434.7" x2="424.55" y2="434.7" stroke="#444444" stroke-width="1.0"/>
<line x1="428" y1="423.1" x2="428" y2="434.7" stroke="#444444" stroke-width="1.0"/>
<line x1="426.05" y1="423.1" x2="429.95" y2="423.1" stroke="#444444" stroke-width="1.0"/>
<line x1="426.05" y1="434.7" x2="429.95" y2="434.7" stroke="#444444" stroke-width="1.0"/>
<line x1="433.3" y1="424.4" x2="433.3" y2="444.3" stroke="#444444" stroke-width="1.0"/>
<line x1="431.35" y1="424.4" x2="435.25" y2="424.4" stroke="#444444" stroke-width="1.0"/>
<line x1="431.35" y1="444.3" x2="435.25" y2="444.3" stroke="#444444" stroke-width="1.0"/>
<line x1="438.7" y1="423.6" x2="438.7" y2="434.6" stroke="#444444" stroke-width="1.0"/>
<line x1="436.75" y1="423.6" x2="440.65" y2="423.6" stroke="#444444" stroke-width="1.0"/>
<line x1="436.75" y1="434.6" x2="440.65" y2="434.6" stroke="#444444" stroke-width="1.0"/>
<line x1="443.8" y1="429.7" x2="443.8" y2="444.2" stroke="#444444" stroke-width="1.0"/>
<line x1="441.85" y1="429.7" x2="445.75" y2="429.7" stroke="#444444" stroke-width="1.0"/>
<line x1="441.85" y1="444.2" x2="445.75" y2="444.2" stroke="#444444" stroke-width="1.0"/>
<line x1="449.3" y1="425" x2="449.3" y2="444.2" stroke="#444444" stroke-width="1.0"/>
<line x1="447.35" y1="425" x2="451.25" y2="425" stroke="#444444" stroke-width="1.0"/>
<line x1="447.35" y1="444.2" x2="451.25" y2="444.2" stroke="#444444" stroke-width="1.0"/>
<line x1="454.6" y1="429.4" x2="454.6" y2="444.2" stroke="#444444" stroke-width="1.0"/>
<line x1="452.65" y1="429.4" x2="456.55" y2="429.4" stroke="#444444" stroke-width="1.0"/>
<line x1="452.65" y1="444.2" x2="456.55" y2="444.2" stroke="#444444" stroke-width="1.0"/>
<line x1="460" y1="429.5" x2="460" y2="444.2" stroke="#444444" stroke-width="1.0"/>
<line x1="458.05" y1="429.5" x2="461.95" y2="429.5" stroke="#444444" stroke-width="1.0"/>
<line x1="458.05" y1="444.2" x2="461.95" y2="444.2" stroke="#444444" stroke-width="1.0"/>
<line x1="465.3" y1="432.2" x2="465.3" y2="444.2" stroke="#444444" stroke-width="1.0"/>
<line x1="463.35" y1="432.2" x2="467.25" y2="432.2" stroke="#444444" stroke-width="1.0"/>
<line x1="463.35" y1="444.2" x2="467.25" y2="444.2" stroke="#444444" stroke-width="1.0"/>
<line x1="470.7" y1="435.2" x2="470.7" y2="444.2" stroke="#444444" stroke-width="1.0"/>
<line x1="468.75" y1="435.2" x2="472.65" y2="435.2" stroke="#444444" stroke-width="1.0"/>
<line x1="468.75" y1="444.2" x2="472.65" y2="444.2" stroke="#444444" stroke-width="1.0"/>
<line x1="476" y1="435.1" x2="476" y2="444.2" stroke="#444444" stroke-width="1.0"/>
<line x1="474.05" y1="435.1" x2="477.95" y2="435.1" stroke="#444444" stroke-width="1.0"/>
<line x1="474.05" y1="444.2" x2="477.95" y2="444.2" stroke="#444444" stroke-width="1.0"/>
<line x1="481.2" y1="436.5" x2="481.2" y2="441.1" stroke="#444444" stroke-width="1.0"/>
<line x1="479.25" y1="436.5" x2="483.15" y2="436.5" stroke="#444444" stroke-width="1.0"/>
<line x1="479.25" y1="441.1" x2="483.15" y2="441.1" stroke="#444444" stroke-width="1.0"/>
<line x1="486.4" y1="435" x2="486.4" y2="443.6" stroke="#444444" stroke-width="1.0"/>
<line x1="484.45" y1="435" x2="488.35" y2="435" stroke="#444444" stroke-width="1.0"/>
<line x1="484.45" y1="443.6" x2="488.35" y2="443.6" stroke="#444444" stroke-width="1.0"/>
<line x1="491.7" y1="435" x2="491.7" y2="446" stroke="#444444" stroke-width="1.0"/>
<line x1="489.75" y1="435" x2="493.65" y2="435" stroke="#444444" stroke-width="1.0"/>
<line x1="489.75" y1="446" x2="493.65" y2="446" stroke="#444444" stroke-width="1.0"/>
<line x1="497" y1="435" x2="497" y2="444.7" stroke="#444444" stroke-width="1.0"/>
<line x1="495.05" y1="435" x2="498.95" y2="435" stroke="#444444" stroke-width="1.0"/>
<line x1="495.05" y1="444.7" x2="498.95" y2="444.7" stroke="#444444" stroke-width="1.0"/>
<line x1="502.2" y1="437.1" x2="502.2" y2="438.8" stroke="#444444" stroke-width="1.0"/>
<line x1="500.25" y1="437.1" x2="504.15" y2="437.1" stroke="#444444" stroke-width="1.0"/>
<line x1="500.25" y1="438.8" x2="504.15" y2="438.8" stroke="#444444" stroke-width="1.0"/>
<line x1="507.5" y1="438.7" x2="507.5" y2="447.5" stroke="#444444" stroke-width="1.0"/>
<line x1="505.55" y1="438.7" x2="509.45" y2="438.7" stroke="#444444" stroke-width="1.0"/>
<line x1="505.55" y1="447.5" x2="509.45" y2="447.5" stroke="#444444" stroke-width="1.0"/>
<polyline points="311.5,369.8 312.15,370.54 312.99,371.53 314,372.7 315.13,374 316.34,375.38 317.58,376.8 318.81,378.19 320,379.5 321.17,380.77 322.38,382.05 323.61,383.35 324.86,384.66 326.13,385.97 327.39,387.28 328.65,388.6 329.9,389.9 331.16,391.23 332.46,392.59 333.78,393.97 335.08,395.34 336.36,396.69 337.59,397.97 338.74,399.19 339.8,400.3 340.77,401.31 341.66,402.25 342.49,403.12 343.27,403.94 344,404.7 344.69,405.43 345.36,406.12 346,406.8 346.6,407.43 347.14,408.01 347.63,408.54 348.09,409.04 348.54,409.52 349,410 349.48,410.49 350,411 350.56,411.54 351.14,412.09 351.74,412.65 352.35,413.21 352.96,413.76 353.58,414.29 354.19,414.81 354.8,415.3 355.4,415.77 356,416.21 356.6,416.64 357.2,417.06 357.8,417.46 358.4,417.85 359,418.23 359.6,418.6 360.2,418.96 360.8,419.32 361.4,419.66 362,419.99 362.6,420.31 363.2,420.62 363.8,420.91 364.4,421.2 365,421.47 365.6,421.74 366.2,421.99 366.8,422.22 367.4,422.45 368,422.68 368.6,422.89 369.2,423.1 369.8,423.3 370.4,423.48 371,423.66 371.6,423.83 372.2,423.99 372.8,424.15 373.4,424.32 374,424.5 374.6,424.69 375.2,424.88 375.8,425.07 376.39,425.27 376.99,425.46 377.59,425.65 378.2,425.83 378.8,426 379.41,426.16 380.02,426.31 380.63,426.45 381.25,426.59 381.87,426.73 382.48,426.86 383.09,426.98 383.7,427.1 384.3,427.22 384.91,427.32 385.51,427.43 386.11,427.53 386.7,427.62 387.3,427.71 387.9,427.81 388.5,427.9 389.09,427.99 389.66,428.08 390.22,428.17 390.78,428.26 391.36,428.35 391.97,428.43 392.61,428.52 393.3,428.6 394.06,428.68 394.89,428.76 395.76,428.83 396.65,428.91 397.54,428.98 398.41,429.05 399.24,429.13 400,429.2 400.65,429.27 401.21,429.33 401.7,429.39 402.18,429.46 402.69,429.52 403.26,429.6 403.95,429.69 404.8,429.8 405.77,429.93 406.82,430.07 407.94,430.22 409.15,430.39 410.45,430.56 411.86,430.74 413.37,430.92 415,431.1 416.82,431.29 418.85,431.49 421.03,431.7 423.29,431.91 425.57,432.12 427.79,432.32 429.89,432.52 431.8,432.7 433.49,432.87 435.02,433.02 436.44,433.16 437.79,433.29 439.15,433.43 440.54,433.57 442.05,433.73 443.7,433.9 445.54,434.09 447.52,434.28 449.6,434.49 451.73,434.7 453.86,434.92 455.95,435.14 457.95,435.37 459.8,435.6 461.53,435.84 463.19,436.1 464.79,436.37 466.33,436.64 467.82,436.91 469.25,437.16 470.65,437.4 472,437.6 473.29,437.77 474.51,437.92 475.67,438.05 476.78,438.16 477.87,438.27 478.96,438.37 480.07,438.48 481.2,438.6 482.36,438.73 483.52,438.85 484.68,438.98 485.85,439.1 487.02,439.23 488.18,439.35 489.34,439.48 490.5,439.6 491.63,439.72 492.72,439.83 493.79,439.94 494.88,440.06 495.98,440.17 497.14,440.3 498.37,440.44 499.7,440.6 501.22,440.79 502.97,441.02 504.83,441.26 506.73,441.51 508.54,441.76 510.2,441.98 511.58,442.16 512.6,442.3" fill="none" stroke="#5454cc" stroke-width="1.3" stroke-linejoin="round" stroke-linecap="butt"/>
</g>
</svg>
</body></html>
